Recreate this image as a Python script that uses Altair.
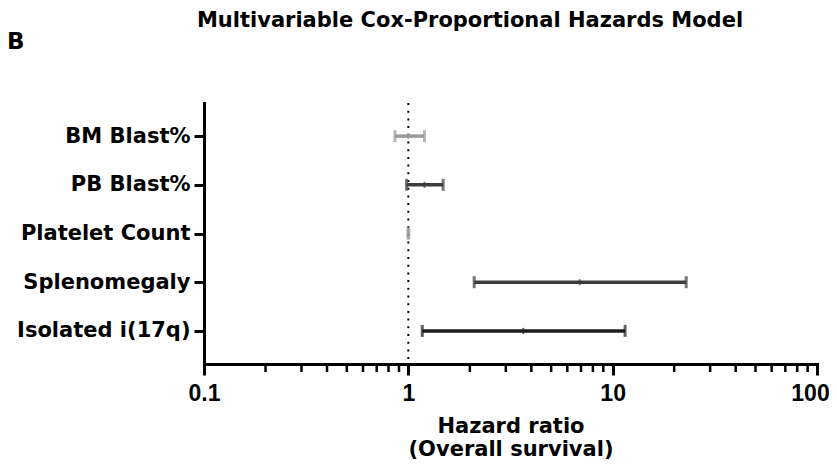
import altair as alt
import pandas as pd

# Data
labels = ["BM Blast%", "PB Blast%", "Platelet Count", "Splenomegaly", "Isolated i(17q)"]
hr = [1.00, 1.20, 1.00, 6.9, 3.65]
low = [0.86, 0.98, 0.995, 2.1, 1.17]
high = [1.20, 1.48, 1.005, 22.9, 11.5]
colors = ["#9a9a9a", "#3c3c3c", "#9a9a9a", "#3c3c3c", "#1c1c1c"]
major_ticks = [0.1, 1, 10, 100]
minor_ticks = [0.2, 0.3, 0.4, 0.5, 0.6, 0.7, 0.8, 0.9,
               2, 3, 4, 5, 6, 7, 8, 9,
               20, 30, 40, 50, 60, 70, 80, 90]
ref_line = [1]

df = pd.DataFrame({"label": labels, "hr": hr, "low": low, "high": high, "color": colors})
minor_df = pd.DataFrame({"v": minor_ticks})
ref_df = pd.DataFrame({"v": ref_line})

W, H = 613, 261
FONT = "DejaVu Sans"
NUMFONT = "Liberation Sans"

xscale = alt.Scale(type="log", domain=[0.1, 100], nice=False)
yscale = alt.Scale(type="point", domain=labels, padding=0.68)

xaxis = alt.Axis(values=major_ticks, format="~g", grid=False,
                 domainWidth=3, domainColor="black", domainCap="square",
                 tickWidth=3, tickColor="black", tickSize=11,
                 labelFont=NUMFONT, labelFontWeight="bold", labelFontSize=23,
                 labelColor="black", labelPadding=7, labelFlush=False,
                 labelOffset={"condition": {"test": "datum.value == 100", "value": -7}, "value": 0},
                 title=["Hazard ratio", "(Overall survival)"],
                 titleFont=FONT, titleFontWeight="bold", titleFontSize=21,
                 titleColor="black", titlePadding=10, titleLineHeight=23)
yaxis = alt.Axis(title=None, grid=False,
                 domainWidth=3, domainColor="black", domainCap="square",
                 tickWidth=3, tickColor="black", tickSize=10,
                 labelFont=FONT, labelFontWeight="bold", labelFontSize=21,
                 labelColor="black", labelPadding=4)

base = alt.Chart(df)

ref = alt.Chart(ref_df).mark_rule(strokeDash=[2, 5.7], strokeWidth=2, color="black").encode(
    x=alt.X("v:Q", scale=xscale, axis=xaxis)
)

bars = base.mark_rule(strokeWidth=3.5).encode(
    x=alt.X("low:Q", scale=xscale, axis=xaxis),
    x2="high:Q",
    y=alt.Y("label:N", scale=yscale, axis=yaxis, sort=labels),
    color=alt.Color("color:N", scale=None),
)

cap_lo = base.mark_tick(size=12, thickness=3).encode(
    x=alt.X("low:Q", scale=xscale),
    y=alt.Y("label:N", scale=yscale, sort=labels),
    color=alt.Color("color:N", scale=None),
)
cap_hi = base.mark_tick(size=12, thickness=3).encode(
    x=alt.X("high:Q", scale=xscale),
    y=alt.Y("label:N", scale=yscale, sort=labels),
    color=alt.Color("color:N", scale=None),
)
center = base.mark_tick(size=6, thickness=2).encode(
    x=alt.X("hr:Q", scale=xscale),
    y=alt.Y("label:N", scale=yscale, sort=labels),
    color=alt.Color("color:N", scale=None),
)

minor = alt.Chart(minor_df).mark_rule(strokeWidth=2.5, color="black").encode(
    x=alt.X("v:Q", scale=xscale),
    y=alt.value(H + 1),
    y2=alt.value(H + 8),
)

title = alt.Chart(ref_df).mark_text(
    text="Multivariable Cox-Proportional Hazards Model",
    font=FONT, fontWeight="bold", fontSize=21, color="black",
    align="center", baseline="alphabetic",
).encode(x=alt.value(266), y=alt.value(-76))

panel = alt.Chart(ref_df).mark_text(
    text="B", font=FONT, fontWeight="bold", fontSize=23, color="black",
    align="left", baseline="alphabetic",
).encode(x=alt.value(-197), y=alt.value(-54))

chart = alt.layer(ref, bars, cap_lo, cap_hi, center, minor, title, panel).properties(
    width=W, height=H,
    autosize=alt.AutoSizeParams(type="none"),
    padding={"left": 196, "top": 95, "right": 12, "bottom": 99},
    background="white",
).configure_view(stroke=None)

chart.save("out.html", embed_options={"renderer": "svg", "actions": False})
